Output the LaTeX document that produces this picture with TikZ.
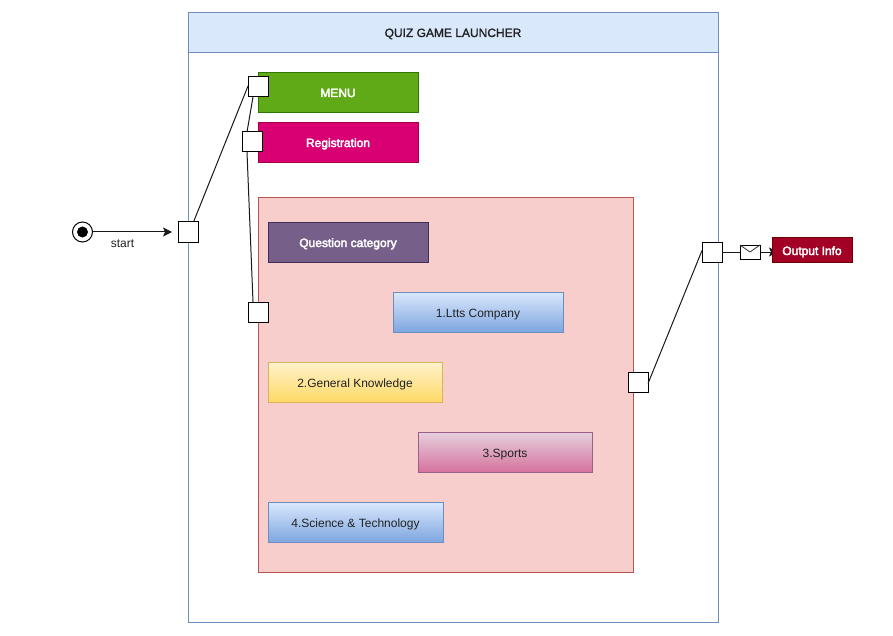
\documentclass[tikz,border=0pt]{standalone}
\usepackage{fontspec}
\setmainfont{Liberation Sans}
\newfontfamily\fakebold[FakeBold=3]{Liberation Sans}
\newfontfamily\fakemed[FakeBold=1.5]{Liberation Sans}
\usetikzlibrary{arrows.meta,backgrounds}
\definecolor{lanefill}{HTML}{DAE8FC}
\definecolor{lanedraw}{HTML}{6C8EBF}
\definecolor{panelfill}{HTML}{F8CECC}
\definecolor{paneldraw}{HTML}{B85450}
\definecolor{greenfill}{HTML}{60A917}
\definecolor{greendraw}{HTML}{2D7600}
\definecolor{regfill}{HTML}{D80073}
\definecolor{regdraw}{HTML}{A50040}
\definecolor{catfill}{HTML}{76608A}
\definecolor{catdraw}{HTML}{432D57}
\definecolor{outfill}{HTML}{A20025}
\definecolor{outdraw}{HTML}{6F0000}
\definecolor{bluebot}{HTML}{7EA6E0}
\definecolor{yeltop}{HTML}{FFF2CC}
\definecolor{yelbot}{HTML}{FFD966}
\definecolor{yeldraw}{HTML}{D6B656}
\definecolor{pinktop}{HTML}{E6D0DE}
\definecolor{pinkbot}{HTML}{D5739D}
\definecolor{pinkdraw}{HTML}{996185}
\definecolor{txt}{HTML}{222222}
\tikzset{
  box/.style={draw,line width=0.8pt,inner sep=0pt,outer sep=0pt,text height=10pt,text depth=0pt,font=\fontsize{12}{14}\selectfont,text=txt},
  solidbox/.style={box,text=white,font=\fontsize{12}{14}\selectfont\fakebold},
  bluebox/.style={box,draw=lanedraw,top color=lanefill,bottom color=bluebot},
  portbox/.style={draw=black,fill=white,line width=1pt,minimum width=20pt,minimum height=20pt,inner sep=0pt,outer sep=0pt},
  link/.style={draw=black!90,line width=1pt},
  arrowlink/.style={link,-{Stealth[length=9pt,width=9pt,inset=2pt]}}
}
\begin{document}
\begin{tikzpicture}[x=1pt,y=-1pt]
\useasboundingbox (0,0) rectangle (893,636);
% swimlane
\node[box,draw=lanedraw,fill=white,minimum width=530pt,minimum height=610pt] (lane) at (453,317) {};
\node[box,draw=lanedraw,fill=lanefill,minimum width=530pt,minimum height=40pt,font=\fontsize{12}{14}\selectfont\fakemed] (head) at (453,32) {QUIZ GAME LAUNCHER};
% boxes
\node[solidbox,draw=greendraw,fill=greenfill,minimum width=160pt,minimum height=40pt] (menu) at (338,92) {MENU};
\node[solidbox,draw=regdraw,fill=regfill,minimum width=160pt,minimum height=40pt] (reg) at (338,142) {Registration};
\node[box,draw=paneldraw,fill=panelfill,minimum width=375pt,minimum height=375pt] (panel) at (445.5,384.5) {};
\node[solidbox,draw=catdraw,fill=catfill,minimum width=160pt,minimum height=40pt] (cat) at (348,242) {Question category};
\node[bluebox,minimum width=170pt,minimum height=40pt] (ltts) at (478,312) {1.Ltts Company};
\node[box,draw=yeldraw,top color=yeltop,bottom color=yelbot,minimum width=174pt,minimum height=40pt] (gk) at (355,382) {2.General Knowledge};
\node[box,draw=pinkdraw,top color=pinktop,bottom color=pinkbot,minimum width=174pt,minimum height=40pt] (sports) at (505,452) {3.Sports};
\node[bluebox,minimum width=175pt,minimum height=40pt] (sci) at (355.5,522) {4.Science \& Technology};
\node[solidbox,draw=outdraw,fill=outfill,minimum width=80pt,minimum height=25pt] (out) at (812,250) {Output Info};
% start
\node[draw=black,fill=white,circle,line width=1pt,minimum size=20pt,inner sep=0pt,outer sep=0pt] (start) at (82.5,232) {};
\node[fill=black,circle,minimum size=11pt,inner sep=0pt] (startdot) at (82.5,232) {};
% ports
\node[portbox] (pa) at (188,232) {};
\node[portbox] (pb) at (258,87) {};
\node[portbox] (pc) at (252,142) {};
\node[portbox] (pd) at (258,312) {};
\node[portbox] (pe) at (638,382) {};
\node[portbox] (pf) at (712,252) {};
% envelope
\node[draw=black,fill=white,line width=1pt,minimum width=20pt,minimum height=14pt,inner sep=0pt,outer sep=0pt] (env) at (750,252) {};
\draw[black!80,line width=0.8pt] (env.north west) -- ([yshift=-7pt]env.north) -- (env.north east);
% connectors
\coordinate (startend) at ([xshift=-6pt]pa.west);
\draw[arrowlink] (start.east) -- (startend);
\node[font=\fontsize{12}{14}\selectfont,text=txt] (startlbl) at (122.5,243.5) {start};
\draw[link] ([xshift=5.5pt]pa.north) -- ([yshift=1pt]pb.west);
\draw[link] ([xshift=-5pt]pb.south) -- ([xshift=-5pt]pc.north);
\draw[link] ([xshift=-5pt]pc.south) -- ([xshift=-5pt]pd.north);
\draw[link] ([yshift=-1.5pt]pe.east) -- ([yshift=1.5pt]pf.west);
\draw[link] (pf.east) -- (env.west);
\begin{scope}[on background layer]
\draw[arrowlink,shorten >=-6pt] (env.east) -- (env.east -| out.west);
\end{scope}
\end{tikzpicture}
\end{document}
